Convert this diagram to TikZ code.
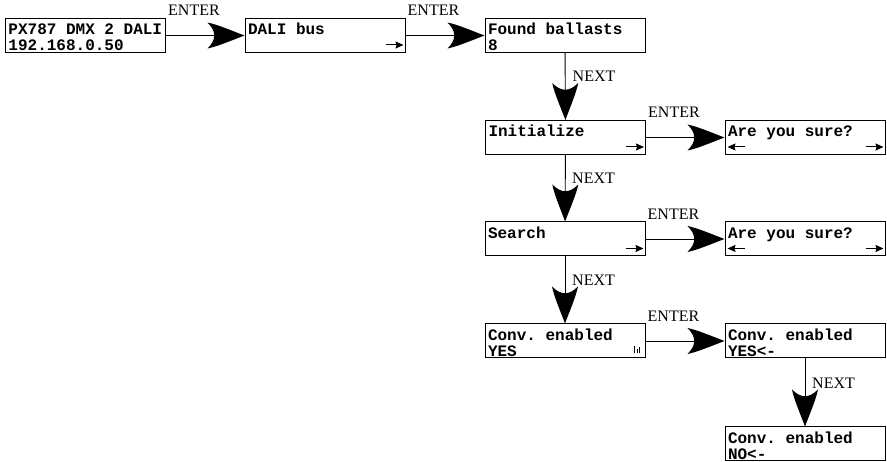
\documentclass[tikz,border=0pt]{standalone}
\usepackage{fontspec}
\setmainfont{Liberation Serif}
\setmonofont{Liberation Mono}
\usetikzlibrary{arrows.meta}
\newcommand\lcdfont{\fontsize{16}{16}\selectfont\ttfamily\bfseries\frenchspacing
  \spaceskip=0.6em\relax\xspaceskip=0.6em\relax}

% big dart head of the menu arrows
\pgfdeclarearrow{
  name = Dart,
  setup code = {
    \pgfarrowssettipend{0pt}
    \pgfarrowssetbackend{-37pt}
    \pgfarrowssetlineend{-29pt}
    \pgfarrowssetvisualbackend{-29pt}
  },
  drawing code = {
    \pgfpathmoveto{\pgfqpoint{0pt}{0pt}}
    \pgfpathcurveto{\pgfqpoint{-12pt}{4.5pt}}{\pgfqpoint{-27pt}{11pt}}{\pgfqpoint{-37pt}{13pt}}
    \pgfpathcurveto{\pgfqpoint{-28pt}{4pt}}{\pgfqpoint{-28pt}{-4pt}}{\pgfqpoint{-37pt}{-13pt}}
    \pgfpathcurveto{\pgfqpoint{-27pt}{-11pt}}{\pgfqpoint{-12pt}{-4.5pt}}{\pgfqpoint{0pt}{0pt}}
    \pgfpathclose
    \pgfusepathqfill
  }
}

\tikzset{
  lcd/.style={draw, line width=1pt, rectangle, minimum width=160pt, minimum height=34pt,
    text width=154pt, inner xsep=3pt, inner ysep=2pt, text height=14.5pt, text depth=15.5pt,
    align=flush left, font=\lcdfont},
  flow/.style={line width=0.9pt, -Dart},
  key/.style={font=\fontsize{16}{16}\selectfont, inner sep=0pt, anchor=base west},
  tick/.style={line width=1pt, -{Stealth[length=8pt,width=7pt,inset=1pt]}},
}

\begin{document}
\begin{tikzpicture}[x=1pt,y=-1pt]
      \useasboundingbox (0,0) rectangle (887,462);

      \path
      (85.5,35.5) node[lcd](id) {PX787 DMX 2 DALI\\192.168.0.50}
      (325,35.5) node[lcd](bus) {DALI bus\\~}
      (565,35.5) node[lcd](found) {Found ballasts\\8}
      (565.5,137.5) node[lcd](init) {Initialize\\~}
      (805,137.5) node[lcd](askinit) {Are you sure?\\~}
      (565,239) node[lcd](search) {Search\\~}
      (805,239) node[lcd](asksearch) {Are you sure?\\~}
      (565,341) node[lcd](conv) {Conv. enabled\\YES}
      (805,341) node[lcd](convyes) {Conv. enabled\\YES<-}
      (805,444) node[lcd](convno) {Conv. enabled\\NO<-}
      ;

      \draw[flow] (id) -- (bus);
      \draw[flow] (bus) -- (found);
      \draw[flow] (found) -- (init);
      \draw[flow] (init) -- (askinit);
      \draw[flow] (init) -- (search);
      \draw[flow] (search) -- (asksearch);
      \draw[flow] (search) -- (conv);
      \draw[flow] (conv) -- (convyes);
      \draw[flow] (convyes) -- (convno);

      \node[key] (e1) at ([xshift=2pt,yshift=2pt]id.north east) {ENTER};
      \node[key] (e2) at ([xshift=2pt,yshift=2pt]bus.north east) {ENTER};
      \node[key] (e3) at ([xshift=2pt,yshift=2pt]init.north east) {ENTER};
      \node[key] (e4) at ([xshift=2pt,yshift=2pt]search.north east) {ENTER};
      \node[key] (e5) at ([xshift=2pt,yshift=2pt]conv.north east) {ENTER};
      \node[key] (n1) at ([xshift=7pt,yshift=38pt]init.north) {NEXT};
      \node[key] (n2) at ([xshift=7pt,yshift=38pt]search.north) {NEXT};
      \node[key] (n3) at ([xshift=7pt,yshift=38pt]conv.north) {NEXT};
      \node[key] (n4) at ([xshift=7pt,yshift=38pt]convno.north) {NEXT};

      % small cursor arrows
      \draw[tick] ([xshift=-20pt,yshift=8pt]bus.south east) -- ++(18,0);
      \draw[tick] ([xshift=-20pt,yshift=8pt]init.south east) -- ++(18,0);
      \draw[tick] ([xshift=-20pt,yshift=8pt]search.south east) -- ++(18,0);
      \draw[tick] ([xshift=-20pt,yshift=8pt]askinit.south east) -- ++(18,0);
      \draw[tick] ([xshift=20pt,yshift=8pt]askinit.south west) -- ++(-17,0);
      \draw[tick] ([xshift=-20pt,yshift=8pt]asksearch.south east) -- ++(18,0);
      \draw[tick] ([xshift=20pt,yshift=8pt]asksearch.south west) -- ++(-17,0);

      % level icon
      \draw[line width=0.9pt]
        ([xshift=-11pt,yshift=5pt]conv.south east) -- ++(0,-7)
        ([xshift=-8.5pt,yshift=5pt]conv.south east) -- ++(0,-4)
        ([xshift=-6pt,yshift=5pt]conv.south east) -- ++(0,-6);
    \end{tikzpicture}
\end{document}
